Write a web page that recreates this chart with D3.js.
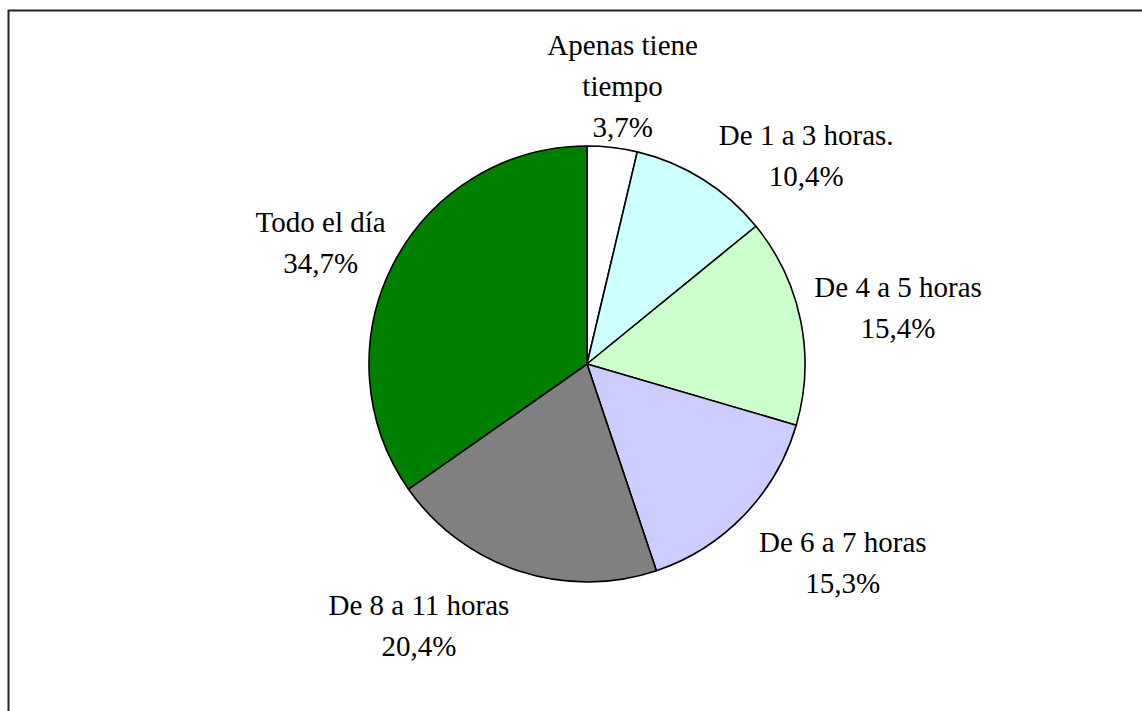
<!DOCTYPE html>
<html>
<head>
<meta charset="utf-8">
<script src="https://cdn.jsdelivr.net/npm/d3@7"></script>
<style>
  html, body { margin: 0; padding: 0; background: #fff; }
  svg { display: block; }
  .lbl { font-family: "Times New Roman", "Liberation Serif", Tinos, "DejaVu Serif", serif; font-size: 29px; }
</style>
</head>
<body>
<div id="chart"></div>
<script>
// Chart data
const categories = ["Apenas tiene tiempo", "De 1 a 3 horas.", "De 4 a 5 horas", "De 6 a 7 horas", "De 8 a 11 horas", "Todo el día"];
const labelLines = [["Apenas tiene", "tiempo"], ["De 1 a 3 horas."], ["De 4 a 5 horas"], ["De 6 a 7 horas"], ["De 8 a 11 horas"], ["Todo el día"]];
const values = [3.7, 10.4, 15.4, 15.3, 20.4, 34.7];
const valueLabels = ["3,7%", "10,4%", "15,4%", "15,3%", "20,4%", "34,7%"];
const colors = ["#ffffff", "#ccffff", "#ccffcc", "#ccccff", "#808080", "#008000"];

const width = 1142, height = 711;
const cx = 587, cy = 364, radius = 218;
const labelR = 298, lineH = 41;
// manual nudges so labels sit where the original had them
const nudges = [[1, 18], [61, 44], [19, 3], [41, -8], [-75, -22], [-2, 16]];

const svg = d3.select("#chart").append("svg")
    .attr("width", width)
    .attr("height", height);

// Outer frame (right and bottom edges run off the page)
svg.append("rect")
    .attr("x", 8.5).attr("y", 10.5)
    .attr("width", 1200).attr("height", 800)
    .attr("fill", "none")
    .attr("stroke", "#222")
    .attr("stroke-width", 2);

const color = d3.scaleOrdinal().domain(categories).range(colors);

const pie = d3.pie().sort(null).value(d => d.value);
const arcs = pie(categories.map((c, i) => ({cat: c, value: values[i], i: i})));
const arc = d3.arc().innerRadius(0).outerRadius(radius);

const g = svg.append("g").attr("transform", `translate(${cx},${cy})`);

g.selectAll("path")
    .data(arcs)
    .join("path")
    .attr("d", arc)
    .attr("fill", d => color(d.data.cat))
    .attr("stroke", "#000")
    .attr("stroke-width", 1.6)
    .attr("stroke-linejoin", "round");

// Labels
const labels = g.selectAll("text.lbl")
    .data(arcs)
    .join("text")
    .attr("class", "lbl")
    .attr("text-anchor", "middle")
    .attr("fill", "#000");

labels.each(function(d) {
    const mid = (d.startAngle + d.endAngle) / 2;
    const i = d.data.i;
    const ax = Math.sin(mid) * labelR + nudges[i][0];
    const ay = -Math.cos(mid) * labelR + nudges[i][1];
    const lines = labelLines[i].concat([valueLabels[i]]);
    const firstBase = ay - (lines.length - 1) * lineH / 2 + 10;
    const t = d3.select(this);
    lines.forEach((ln, k) => {
        t.append("tspan")
            .attr("x", ax)
            .attr("y", firstBase + k * lineH)
            .text(ln);
    });
});
</script>
</body>
</html>
